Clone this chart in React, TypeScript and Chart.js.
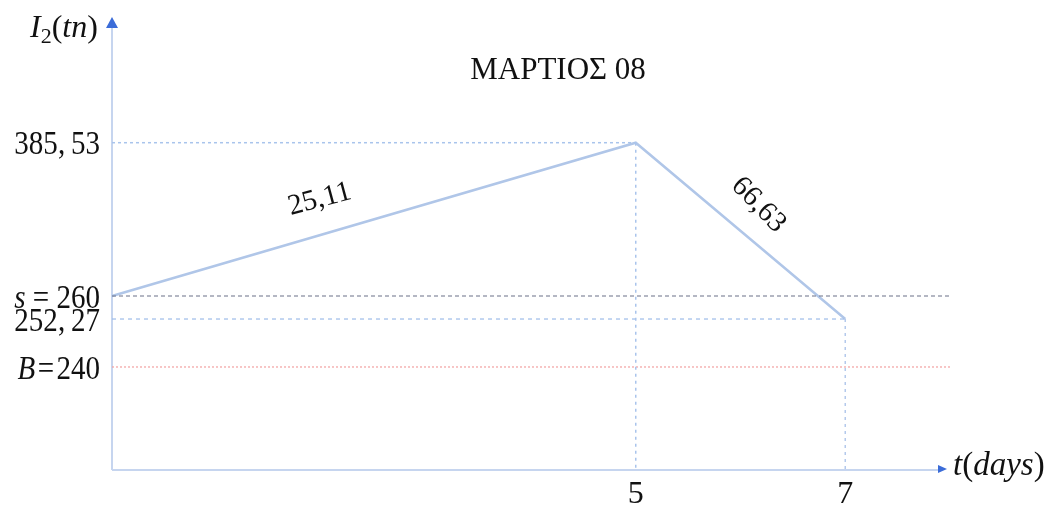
import React, { useEffect, useRef } from 'react';
import { Chart, registerables, LinearScale } from 'chart.js';

// ---- data ----
const days = [0, 5, 7];
const inventory = [260, 385.53, 252.27];
const slopeLabels = ['25,11', '66,63'];
const sLevel = 260;
const bLevel = 240;
const xTicks = [5, 7];
const xTickLabels = ['5', '7'];
const yTickValues = [385.53, 260, 252.27, 240];
const yTickItalic = ['', 's', '', 'B'];
const yTickText = ['385,\u200953', ' = 260', '252,\u200927', '\u200a=\u200a240'];
const titleText = 'ΜΑΡΤΙΟΣ 08';

// schematic (not-to-scale) vertical axis: value break points and their axis fractions
const yBreakValues = [200, 240, 252.27, 260, 385.53, 440];
const yBreakFractions = [0, 0.2274, 0.3333, 0.3841, 0.7225, 1];

function valueToDecimal(v: number): number {
  const bv = yBreakValues, bf = yBreakFractions;
  if (v <= bv[0]) return bf[0] + (v - bv[0]) * (bf[1] - bf[0]) / (bv[1] - bv[0]);
  for (let i = 1; i < bv.length; i++) {
    if (v <= bv[i]) return bf[i - 1] + (v - bv[i - 1]) * (bf[i] - bf[i - 1]) / (bv[i] - bv[i - 1]);
  }
  const n = bv.length - 1;
  return bf[n] + (v - bv[n]) * (bf[n] - bf[n - 1]) / (bv[n] - bv[n - 1]);
}
function decimalToValue(d: number): number {
  const bv = yBreakValues, bf = yBreakFractions;
  for (let i = 1; i < bf.length; i++) {
    if (d <= bf[i]) return bv[i - 1] + (d - bf[i - 1]) * (bv[i] - bv[i - 1]) / (bf[i] - bf[i - 1]);
  }
  return bv[bv.length - 1];
}

class BrokenScale extends LinearScale {
  static id = 'broken';
  getPixelForValue(value: any) {
    if (value === null || value === undefined || isNaN(value)) return NaN;
    return this.getPixelForDecimal(valueToDecimal(+value));
  }
  getValueForPixel(pixel: number) {
    return decimalToValue(this.getDecimalForPixel(pixel));
  }
}

Chart.register(...registerables, BrokenScale);

const SERIF = '"Liberation Serif", "Times New Roman", serif';
const AXIS_COLOR = '#c6d5ef';
const ARROW_COLOR = '#3b6cd8';

type Part = { t: string; font: string; dy?: number };
function drawParts(ctx: CanvasRenderingContext2D, parts: Part[], x: number, y: number, align: 'left' | 'right' | 'center', sx = 1) {
  let total = 0;
  const widths = parts.map(p => { ctx.font = p.font; const w = ctx.measureText(p.t).width; total += w; return w; });
  const tw = total * sx;
  const startX = align === 'left' ? x : align === 'right' ? x - tw : x - tw / 2;
  ctx.save();
  ctx.translate(startX, y);
  ctx.scale(sx, 1);
  ctx.textAlign = 'left';
  ctx.textBaseline = 'middle';
  let cx = 0;
  parts.forEach((p, i) => {
    ctx.font = p.font;
    ctx.fillText(p.t, cx, p.dy || 0);
    cx += widths[i];
  });
  ctx.restore();
}

const overlayPlugin = {
  id: 'overlay',
  beforeDatasetsDraw(chart: any) {
    const { ctx, chartArea } = chart;
    const xs = chart.scales.x, ys = chart.scales.y;
    const x0 = xs.getPixelForValue(0);
    const y0 = ys.getPixelForValue(200);
    ctx.save();
    ctx.strokeStyle = AXIS_COLOR;
    ctx.lineWidth = 2;
    ctx.beginPath();
    ctx.moveTo(x0, y0);
    ctx.lineTo(x0, chartArea.top + 10);
    ctx.moveTo(x0, y0);
    ctx.lineTo(chartArea.right - 12, y0);
    ctx.stroke();
    ctx.fillStyle = ARROW_COLOR;
    ctx.beginPath();
    ctx.moveTo(x0, chartArea.top);
    ctx.lineTo(x0 - 6, chartArea.top + 11);
    ctx.lineTo(x0 + 6, chartArea.top + 11);
    ctx.closePath();
    ctx.fill();
    ctx.beginPath();
    ctx.moveTo(chartArea.right - 3, y0 - 1);
    ctx.lineTo(chartArea.right - 12, y0 - 5);
    ctx.lineTo(chartArea.right - 12, y0 + 3);
    ctx.closePath();
    ctx.fill();
    ctx.restore();
  },
  afterDraw(chart: any) {
    const { ctx, chartArea } = chart;
    const xs = chart.scales.x, ys = chart.scales.y;
    const x0 = xs.getPixelForValue(0);
    const y0 = ys.getPixelForValue(200);
    ctx.save();
    ctx.fillStyle = '#111';
    const f = (sz: number, it = false) => `${it ? 'italic ' : ''}${sz}px ${SERIF}`;

    yTickValues.forEach((v, i) => {
      const py = ys.getPixelForValue(v) + 3;
      const parts: Part[] = [];
      if (yTickItalic[i]) parts.push({ t: yTickItalic[i], font: f(33, true) });
      parts.push({ t: yTickText[i], font: f(33) });
      drawParts(ctx, parts, x0 - 12, py, 'right', 0.88);
    });
    xTicks.forEach((v, i) => {
      drawParts(ctx, [{ t: xTickLabels[i], font: f(32) }], xs.getPixelForValue(v), y0 + 25, 'center');
    });
    drawParts(ctx, [
      { t: 'I', font: f(32, true) },
      { t: '2', font: f(22), dy: 8 },
      { t: '(', font: f(32) },
      { t: 'tn', font: f(32, true) },
      { t: ')', font: f(32) },
    ], x0 - 82, chartArea.top + 12, 'left');
    drawParts(ctx, [
      { t: 't', font: f(33, true) },
      { t: '(', font: f(33) },
      { t: 'days', font: f(33, true) },
      { t: ')', font: f(33) },
    ], chartArea.right + 3, y0 - 4, 'left');

    drawParts(ctx, [{ t: titleText, font: f(31) }], 558, 71, 'center');

    const px = days.map(d => xs.getPixelForValue(d));
    const py = inventory.map(v => ys.getPixelForValue(v));
    const segOffsets = [[-54, -20], [18, -26]];
    const segAngles = [-15, 46];
    slopeLabels.forEach((lab, i) => {
      const mx = (px[i] + px[i + 1]) / 2 + segOffsets[i][0];
      const my = (py[i] + py[i + 1]) / 2 + segOffsets[i][1];
      ctx.save();
      ctx.translate(mx, my);
      ctx.rotate(segAngles[i] * Math.PI / 180);
      ctx.font = f(29);
      ctx.textAlign = 'center';
      ctx.textBaseline = 'middle';
      ctx.fillText(lab, 0, 0);
      ctx.restore();
    });
    ctx.restore();
  },
};

export default function App() {
  const ref = useRef<HTMLCanvasElement | null>(null);
  useEffect(() => {
    if (!ref.current) return;
    const xMax = 8;
    const yMin = 200;
    const pts = days.map((d, i) => ({ x: d, y: inventory[i] }));
    const chart = new Chart(ref.current, {
      type: 'line',
      data: {
        datasets: [
          { data: [{ x: 0, y: inventory[1] }, { x: days[1], y: inventory[1] }], borderColor: '#a9c4ec', borderWidth: 1.5, borderDash: [3, 3], pointRadius: 0 },
          { data: [{ x: days[1], y: inventory[1] }, { x: days[1], y: yMin }], borderColor: '#a9c4ec', borderWidth: 1.5, borderDash: [3, 4], pointRadius: 0 },
          { data: [{ x: 0, y: sLevel }, { x: xMax, y: sLevel }], borderColor: '#6a7088', borderWidth: 1.2, borderDash: [4, 3], pointRadius: 0 },
          { data: [{ x: 0, y: inventory[2] }, { x: days[2], y: inventory[2] }], borderColor: '#9dbbe9', borderWidth: 1.2, borderDash: [4, 4], pointRadius: 0 },
          { data: [{ x: days[2], y: inventory[2] }, { x: days[2], y: yMin }], borderColor: '#b4c9ec', borderWidth: 1.5, borderDash: [3, 4], pointRadius: 0 },
          { data: [{ x: 0, y: bLevel }, { x: xMax, y: bLevel }], borderColor: '#f2a0a0', borderWidth: 1.2, borderDash: [2, 2], pointRadius: 0 },
          { data: pts, borderColor: '#b0c6e8', borderWidth: 2.5, pointRadius: 0, tension: 0 },
        ] as any,
      },
      options: {
        animation: false,
        responsive: false,
        layout: { padding: { left: 112, right: 105, top: 17, bottom: 44 } },
        plugins: { legend: { display: false }, tooltip: { enabled: false }, title: { display: false } },
        elements: { line: { fill: false } },
        datasets: { line: { clip: false } } as any,
        scales: {
          x: { type: 'linear', min: 0, max: xMax, display: false },
          y: { type: 'broken' as any, min: yMin, max: 440, display: false },
        },
      } as any,
      plugins: [overlayPlugin],
    });
    return () => chart.destroy();
  }, []);
  return (
    <div style={{ position: 'absolute', left: 0, top: 0, width: 1055, height: 514, background: '#fff' }}>
      <canvas ref={ref} width={1055} height={514} style={{ display: 'block' }} />
    </div>
  );
}
